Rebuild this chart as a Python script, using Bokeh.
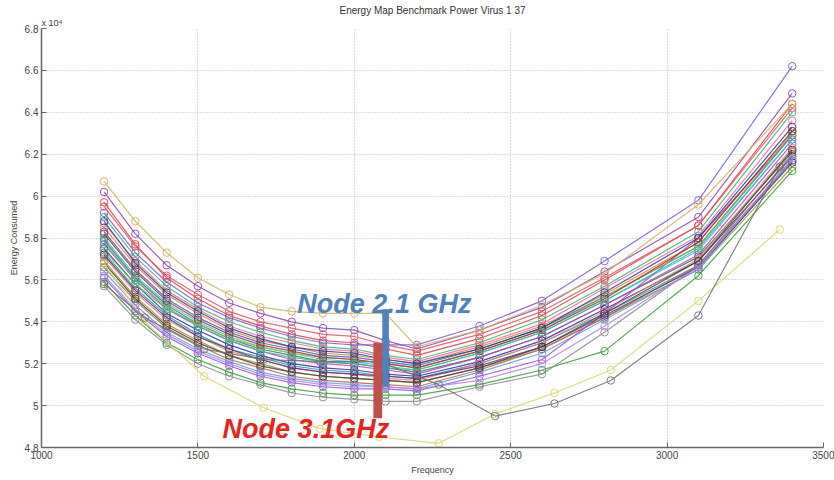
from bokeh.plotting import figure
from bokeh.models import Range1d, Label, FixedTicker, Title
from bokeh.embed import file_html
from bokeh.resources import INLINE

# ---------------- data ----------------
FREQ = [1200, 1300, 1400, 1500, 1600, 1700, 1800, 1900, 2000, 2100, 2200, 2400, 2600, 2800, 3100, 3400]
FREQ_ALT = [1200, 1330, 1520, 1710, 1890, 2080, 2270, 2450, 2640, 2820, 3100, 3360]

N01 = [6.02, 5.82, 5.67, 5.57, 5.49, 5.44, 5.40, 5.37, 5.36, 5.31, 5.27, 5.36, 5.47, 5.64, 5.90, 6.49]
N02 = [5.97, 5.77, 5.61, 5.51, 5.43, 5.38, 5.34, 5.31, 5.30, 5.27, 5.24, 5.32, 5.43, 5.60, 5.86, 6.44]
N03 = [5.92, 5.73, 5.59, 5.49, 5.42, 5.37, 5.33, 5.30, 5.29, 5.29, 5.29, 5.38, 5.50, 5.69, 5.98, 6.62]
N04 = [5.90, 5.71, 5.57, 5.47, 5.40, 5.35, 5.31, 5.28, 5.27, 5.24, 5.22, 5.30, 5.41, 5.57, 5.83, 6.40]
N05 = [5.87, 5.69, 5.55, 5.46, 5.38, 5.33, 5.30, 5.27, 5.26, 5.23, 5.21, 5.29, 5.39, 5.56, 5.81, 6.36]
N06 = [5.85, 5.67, 5.53, 5.44, 5.36, 5.31, 5.28, 5.25, 5.24, 5.22, 5.20, 5.28, 5.38, 5.53, 5.78, 6.31]
N07 = [5.83, 5.65, 5.51, 5.42, 5.35, 5.30, 5.27, 5.24, 5.23, 5.21, 5.19, 5.27, 5.37, 5.52, 5.76, 6.29]
N08 = [5.80, 5.62, 5.49, 5.40, 5.33, 5.28, 5.25, 5.22, 5.21, 5.19, 5.17, 5.25, 5.35, 5.50, 5.74, 6.27]
N09 = [5.79, 5.61, 5.48, 5.39, 5.32, 5.27, 5.24, 5.21, 5.20, 5.18, 5.16, 5.23, 5.33, 5.48, 5.71, 6.21]
N10 = [5.77, 5.60, 5.46, 5.38, 5.31, 5.26, 5.22, 5.20, 5.19, 5.17, 5.15, 5.23, 5.33, 5.48, 5.72, 6.25]
N11 = [5.75, 5.58, 5.44, 5.36, 5.29, 5.24, 5.20, 5.18, 5.17, 5.15, 5.14, 5.21, 5.31, 5.46, 5.69, 6.19]
N12 = [5.73, 5.56, 5.43, 5.34, 5.27, 5.23, 5.19, 5.17, 5.16, 5.14, 5.13, 5.20, 5.30, 5.44, 5.67, 6.17]
N13 = [5.71, 5.54, 5.41, 5.33, 5.26, 5.22, 5.18, 5.16, 5.15, 5.13, 5.12, 5.20, 5.30, 5.45, 5.70, 6.23]
N14 = [5.69, 5.52, 5.39, 5.31, 5.24, 5.20, 5.16, 5.14, 5.13, 5.12, 5.11, 5.18, 5.27, 5.42, 5.65, 6.14]
N15 = [5.66, 5.50, 5.37, 5.29, 5.22, 5.18, 5.14, 5.12, 5.11, 5.10, 5.09, 5.17, 5.27, 5.42, 5.67, 6.20]
N16 = [5.64, 5.48, 5.35, 5.27, 5.21, 5.16, 5.13, 5.11, 5.10, 5.09, 5.08, 5.16, 5.25, 5.41, 5.65, 6.17]
N17 = [5.61, 5.45, 5.33, 5.25, 5.19, 5.14, 5.11, 5.09, 5.08, 5.08, 5.07, 5.14, 5.22, 5.44, 5.80, 6.29]
N18 = [5.59, 5.43, 5.30, 5.22, 5.16, 5.11, 5.08, 5.06, 5.05, 5.05, 5.05, 5.10, 5.17, 5.26, 5.62, 6.12]
N19 = [5.57, 5.41, 5.29, 5.20, 5.14, 5.10, 5.06, 5.04, 5.03, 5.02, 5.02, 5.09, 5.15, 5.35, 5.67, 6.17]
N20 = [5.95, 5.76, 5.62, 5.53, 5.45, 5.40, 5.37, 5.34, 5.33, 5.29, 5.26, 5.34, 5.45, 5.61, 5.86, 6.42]
N21 = [5.74, 5.58, 5.46, 5.39, 5.32, 5.28, 5.25, 5.23, 5.22, 5.20, 5.18, 5.26, 5.36, 5.52, 5.76, 6.30]
N22 = [5.88, 5.68, 5.54, 5.45, 5.37, 5.32, 5.28, 5.26, 5.25, 5.22, 5.20, 5.27, 5.37, 5.54, 5.80, 6.33]
N23 = [5.82, 5.64, 5.50, 5.41, 5.34, 5.29, 5.26, 5.23, 5.22, 5.20, 5.18, 5.26, 5.36, 5.51, 5.78, 6.31]
N24 = [5.78, 5.60, 5.47, 5.38, 5.31, 5.26, 5.23, 5.21, 5.20, 5.18, 5.17, 5.25, 5.35, 5.50, 5.75, 6.27]
N25 = [5.72, 5.55, 5.42, 5.33, 5.27, 5.22, 5.18, 5.16, 5.15, 5.14, 5.13, 5.19, 5.28, 5.43, 5.66, 6.16]
N26 = [5.68, 5.51, 5.38, 5.30, 5.24, 5.19, 5.16, 5.14, 5.13, 5.12, 5.11, 5.18, 5.28, 5.44, 5.69, 6.22]
N27 = [5.62, 5.46, 5.34, 5.26, 5.20, 5.15, 5.12, 5.10, 5.09, 5.09, 5.08, 5.12, 5.20, 5.38, 5.66, 6.18]
TAN = [6.07, 5.88, 5.73, 5.61, 5.53, 5.47, 5.45, 5.44, 5.44, 5.44, 5.28, 5.36, 5.48, 5.63, 5.96, 6.44]
YEL = [5.68, 5.40, 5.14, 4.99, 4.89, 4.85, 4.82, 4.96, 5.06, 5.17, 5.50, 5.84]
GRY = [5.58, 5.42, 5.27, 5.22, 5.21, 5.21, 5.10, 4.95, 5.01, 5.12, 5.43, 6.14]

SERIES = [
    (FREQ, N01, "#8e44ad"), (FREQ, N02, "#e04040"), (FREQ, N03, "#7a5cd6"),
    (FREQ, N04, "#3cb371"), (FREQ, N05, "#f06aa0"), (FREQ, N06, "#f08020"),
    (FREQ, N07, "#2f5fd0"), (FREQ, N08, "#30c8d0"), (FREQ, N09, "#2e7d4f"),
    (FREQ, N10, "#c43cc4"), (FREQ, N11, "#2b2b99"), (FREQ, N12, "#20a0a0"),
    (FREQ, N13, "#f08070"), (FREQ, N14, "#9a9a30"), (FREQ, N15, "#b8603a"),
    (FREQ, N16, "#5aa0e8"), (FREQ, N17, "#9b4fd6"), (FREQ, N18, "#3a9a3a"),
    (FREQ, N19, "#8a8a8a"), (FREQ, N20, "#e0506e"), (FREQ, N21, "#7cc242"),
    (FREQ, N22, "#1f3fa0"), (FREQ, N23, "#b02a2a"), (FREQ, N24, "#46b4a0"),
    (FREQ, N25, "#5a2a8a"), (FREQ, N26, "#404040"), (FREQ, N27, "#b080e0"),
    (FREQ, TAN, "#d2b060"), (FREQ_ALT, YEL, "#d6d66a"), (FREQ_ALT, GRY, "#6e6e6e"),
]

X_TICKS = [1000, 1500, 2000, 2500, 3000, 3500]
Y_TICKS = [4.8, 5.0, 5.2, 5.4, 5.6, 5.8, 6.0, 6.2, 6.4, 6.6, 6.8]
Y_LABELS = ["4.8", "5", "5.2", "5.4", "5.6", "5.8", "6", "6.2", "6.4", "6.6", "6.8"]

# annotation bars (frequency, bottom, top)
BAR_RED = (2075, 4.94, 5.30)
BAR_BLUE = (2100, 5.09, 5.46)
NOTE_BLUE = (1818, 5.487, "Node 2.1 GHz")
NOTE_RED = (1579, 4.886, "Node 3.1GHz")

TITLE = "Energy Map Benchmark Power Virus 1 37"
EXPONENT = "x 10\u2074"

# ---------------- figure ----------------
FONT = "Liberation Sans"
p = figure(width=834, height=480, output_backend="svg", toolbar_location=None,
           x_range=Range1d(1000, 3500), y_range=Range1d(4.8, 6.8),
           min_border_left=41, min_border_right=11, min_border_top=28, min_border_bottom=33)
p.outline_line_color = None
p.background_fill_color = "white"
p.border_fill_color = "white"

p.title.text = TITLE
p.title.align = "center"
p.title.text_font = FONT
p.title.text_font_size = "10px"
p.title.text_font_style = "normal"
p.title.text_color = "#333333"
p.title.standoff = 0

p.add_layout(Title(text=EXPONENT, align="left", text_font=FONT, text_font_size="9px",
                   text_font_style="normal", text_color="#444444", standoff=1), "above")

p.xaxis.ticker = FixedTicker(ticks=X_TICKS)
p.yaxis.ticker = FixedTicker(ticks=Y_TICKS)
p.yaxis.major_label_overrides = dict(zip(Y_TICKS, Y_LABELS))
p.xaxis.axis_label = "Frequency"
p.yaxis.axis_label = "Energy Consumed"
for ax in (p.xaxis, p.yaxis):
    ax.axis_line_color = "#666666"
    ax.axis_line_width = 1.5
    ax.major_tick_line_color = "#666666"
    ax.major_tick_in = 5
    ax.major_tick_out = 0
    ax.minor_tick_line_color = None
    ax.major_label_text_font = FONT
    ax.major_label_text_font_size = "10px"
    ax.major_label_text_color = "#444444"
    ax.major_label_standoff = 3
    ax.axis_label_text_font = FONT
    ax.axis_label_text_font_size = "9px"
    ax.axis_label_text_font_style = "normal"
    ax.axis_label_text_color = "#444444"
    ax.axis_label_standoff = 3

p.grid.grid_line_color = "#b8b8b8"
p.grid.grid_line_dash = "1 2"
p.grid.grid_line_width = 1

for xs, ys, col in SERIES:
    p.line(xs, ys, line_color=col, line_width=1.2, line_alpha=0.85)
    p.scatter(xs, ys, marker="circle", size=7.5, fill_color=None,
              line_color=col, line_width=1, line_alpha=0.9)

# annotation bars
p.vbar(x=[BAR_RED[0]], bottom=[BAR_RED[1]], top=[BAR_RED[2]], width=28,
       fill_color="#c0504d", line_color=None)
p.vbar(x=[BAR_BLUE[0]], bottom=[BAR_BLUE[1]], top=[BAR_BLUE[2]], width=21,
       fill_color="#4f81bd", line_color=None)

p.add_layout(Label(x=NOTE_BLUE[0], y=NOTE_BLUE[1], text=NOTE_BLUE[2],
                   text_font=FONT, text_font_size="27px", text_font_style="bold italic",
                   text_color="#4f81bd", text_baseline="alphabetic"))
p.add_layout(Label(x=NOTE_RED[0], y=NOTE_RED[1], text=NOTE_RED[2],
                   text_font=FONT, text_font_size="27px", text_font_style="bold italic",
                   text_color="#e8241e", text_baseline="alphabetic"))

open("out.html", "w").write(file_html(p, INLINE))
